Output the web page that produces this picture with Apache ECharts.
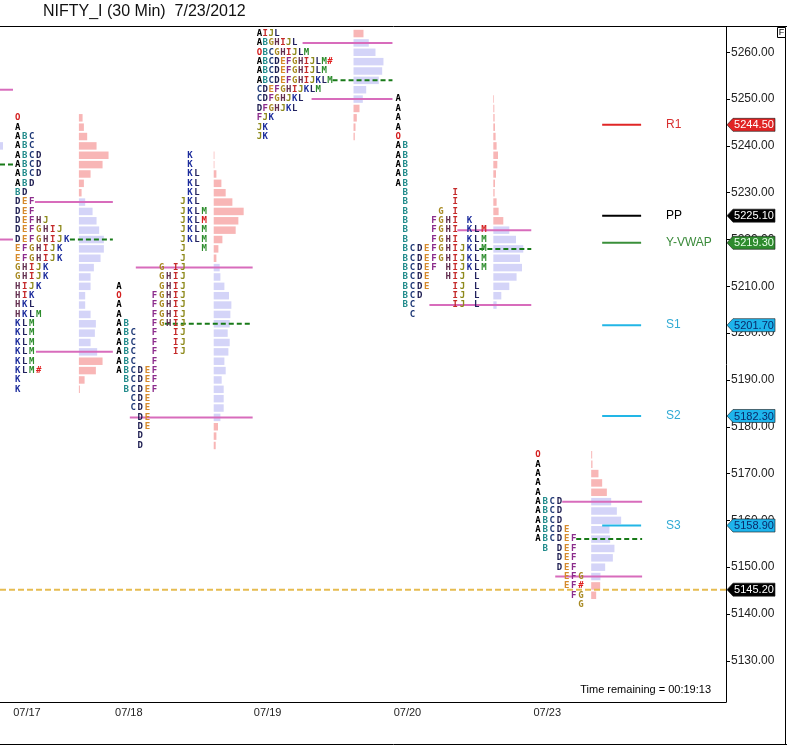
<!DOCTYPE html>
<html>
<head>
<meta charset="utf-8">
<title>NIFTY_I (30 Min) 7/23/2012</title>
<script src="https://cdn.jsdelivr.net/npm/echarts@6/dist/echarts.min.js"></script>
<style>
    html, body { margin: 0; padding: 0; background: #fff; }
    #chart { width: 787px; height: 747px; }
</style>
</head>
<body>
<div id="chart"></div>
<script>
// ==================== Data ====================
const TITLE = 'NIFTY_I (30 Min)  7/23/2012';
const dayLabels = ['07/17', '07/18', '07/19', '07/20', '07/23'];
const yTicks = [5130, 5140, 5150, 5160, 5170, 5180, 5190, 5200, 5210, 5220, 5230, 5240, 5250, 5260];
const ROW = 2; // price per TPO row

// TPO rows, top row first. O = open, # = close, m = POC-marked M
// tail of 07/16 (only the right edge is visible)
const top0716 = 5240;
const tpo0716 = [];
const vol0716 = [3];
const va0716 = [5252, 5236, 5220]; // VAH, POC, VAL

const top0717 = 5246;
const tpo0717 = ['O', 'A', 'ABC', 'ABC', 'ABCD', 'ABCD', 'ABCD', 'ABD', 'BD', 'DEF',
    'DEF', 'DEFHJ', 'DEFGHIJ', 'DEFGHIJK', 'EFGHIJK', 'EFGHIJK', 'GHIJK', 'GHIJK', 'HIJK', 'HIK',
    'HKL', 'HKLM', 'KLM', 'KLM', 'KLM', 'KLM', 'KLM', 'KLM#', 'K', 'K'];
const vol0717 = [3.7, 5, 8.3, 17.7, 29.7, 23.7, 11.7, 5, 2.7, 6.3,
    13.7, 17.7, 20.3, 25, 25, 21.7, 15, 11.7, 11.7, 6.3,
    6.3, 11.7, 17, 16, 11.7, 18.3, 23.7, 17, 5.7, 1];
const va0717 = [5228, 5220, 5196];

const top0718 = 5238;
const tpo0718 = ['          K', '          K', '          KL', '          KL', '          KL',
    '         JKL', '         JKLM', '         JKLm', '         JKLM', '         JKLM',
    '         J  M', '         J', '      G IJ', '      GHIJ', 'A     GHIJ',
    'O    FGHIJ', 'A    FGHIJ', 'A    FGHIJ', 'AB   FGHIJ', 'ABC  F  IJ',
    'ABC  F  IJ', 'ABC  F  IJ', 'ABC  F', 'ABCDEF', ' BCDEF',
    ' BCDEF', '  CDE', '  CDE', '   DE', '   DE', '   D', '   D'];
const vol0718 = [0.7, 0.7, 2.7, 7.7, 12, 18.7, 30, 24.7, 22, 8.7,
    4.7, 2.7, 6, 6.7, 10.7, 15.3, 17.7, 16.7, 16, 14,
    16, 14.7, 10.7, 12, 8, 10, 10, 10, 6.7, 4.3, 2.7, 2];
const va0718 = [5214, 5202, 5182];

const top0719 = 5264;
const tpo0719 = ['AIJL', 'ABGHIJL', 'OBCGHIJLM', 'ABCDEFGHIJLM#', 'ABCDEFGHIJLM', 'ABCDEFGHIJKLM',
    'CDEFGHIJKLM', 'CDFGHJKL', 'DFGHJKL', 'FJK', 'JK', 'JK'];
const vol0719 = [10, 15.3, 22, 30, 28.7, 25.3, 12.7, 9.3, 6, 3.3, 2, 1.3];
const va0719 = [5262, 5254, 5250];

const top0720 = 5250;
const tpo0720 = ['A', 'A', 'A', 'A', 'O', 'AB', 'AB', 'AB', 'AB', 'AB',
    ' B      I', ' B      I', ' B    G I', ' B   FGHI K', ' B   FGHI KLm',
    ' B   FGHI KLM', ' BCDEFGHIJKLM', ' BCDEFGHIJKLM', ' BCDEF HIJKLM', ' BCDE  HIJ L',
    ' BCDE   IJ L', ' BCD    IJ L', ' BC     IJ L', '  C'];
const vol0720 = [0.7, 1, 1.3, 1.7, 2.3, 3.3, 4.7, 4, 2.7, 1.7,
    1.3, 3.3, 5.3, 10, 16, 22.7, 30, 26.7, 28.7, 23.3,
    16, 8, 3.3, 0];
const va0720 = [5222, 5218, 5206];

const top0723 = 5174;
const tpo0723 = ['O', 'A', 'A', 'A', 'A', 'ABCD', 'ABCD', 'ABCD', 'ABCDE', 'ABCDEF',
    ' B DEF', '   DEF', '   DEF', '    EFG', '    EF#', '     FG', '      G'];
const vol0723 = [1, 1.3, 7.3, 11, 15.7, 20, 25.7, 30, 18.3, 19,
    23.3, 21.7, 14, 9.3, 9, 5, 0];
const va0723 = [5164, 5156, 5148];

// pivot levels
const levelNames = ['R1', 'PP', 'Y-VWAP', 'S1', 'S2', 'S3'];
const levelValues = [5244.5, 5225.1, 5219.3, 5201.7, 5182.3, 5158.9];
const lastPrice = 5145.2;
const timeRemaining = '00:19:13';

// ==================== Layout / styles ====================
const X_MAX = 727;
const Y_MIN = 5121.2, Y_MAX = 5265.4;
const dayX = [27, 129, 268, 408, 548];
const layouts = [
    { letterX: 0, step: 7, histX: 0, from: [0, 0, 0], to: 13 },
    { letterX: 15, step: 7.0, histX: 79, from: [35, 70, 36], to: 113 },
    { letterX: 116.5, step: 7.1, histX: 214, from: [136, 165, 130], to: 253 },
    { letterX: 257, step: 5.9, histX: 354, from: [303, 333, 312], to: 393 },
    { letterX: 396, step: 7.15, histX: 494, from: [458, 480, 430], to: 532 },
    { letterX: 536, step: 7.17, histX: 592, from: [563, 577, 556], to: 643 }
];
const levelLineX = [603, 642];
const levelLabelX = 667;

const letterColors = {
    A: '#000000', B: '#1f8a8a', C: '#203a78', D: '#1c1c50', E: '#d68a2c', F: '#8c2c8c',
    G: '#a88a22', H: '#643050', I: '#c42a2a', J: '#8e8a1c', K: '#1c2c9c', L: '#22225e',
    M: '#2c8c2c', O: '#d42020', '#': '#e02020', m: '#d42020'
};
const levelColors = ['#e02626', '#000000', '#3a8f3a', '#22b6e6', '#22b6e6', '#22b6e6'];
const levelTextColors = ['#d83030', '#000000', '#3a8a3a', '#30aad4', '#30aad4', '#30aad4'];
const tagBg = ['#e02424', '#000000', '#2e8b2e', '#1eb4ec', '#1eb4ec', '#1eb4ec'];
const tagFg = ['#ffffff', '#ffffff', '#e8ffe8', '#0a2a6a', '#0a2a6a', '#0a2a6a'];
const PINK = '#f8b6b6', LAVENDER = '#d4d4f8';
const VA_LINE = '#d86cbc', POC_LINE = '#187a18', LAST_LINE = '#e6bc50';
const FONT = '"Liberation Sans", Arial, sans-serif';

// ==================== Build marks ====================
const profiles = [
    { tpo: tpo0716, vol: vol0716, top: top0716, va: va0716 },
    { tpo: tpo0717, vol: vol0717, top: top0717, va: va0717 },
    { tpo: tpo0718, vol: vol0718, top: top0718, va: va0718 },
    { tpo: tpo0719, vol: vol0719, top: top0719, va: va0719 },
    { tpo: tpo0720, vol: vol0720, top: top0720, va: va0720 },
    { tpo: tpo0723, vol: vol0723, top: top0723, va: va0723 }
];

const letters = [];
const bars = [];
const vaLines = [];
profiles.forEach((p, k) => {
    const lay = layouts[k];
    p.tpo.forEach((row, i) => {
        const price = p.top - i * ROW;
        row.split('').forEach((ch, j) => {
            if (ch === ' ') return;
            letters.push({ x: lay.letterX + j * lay.step, y: price, ch: ch === 'm' ? 'M' : ch, color: letterColors[ch] });
        });
    });
    p.vol.forEach((len, i) => {
        if (!len) return;
        const price = p.top - i * ROW;
        const inVA = price <= p.va[0] && price >= p.va[2];
        bars.push({ x0: lay.histX, x1: lay.histX + len, y: price, color: inVA ? LAVENDER : PINK });
    });
    p.va.forEach((price, n) => {
        vaLines.push({ x0: lay.from[n], x1: lay.to, y: price, poc: n === 1 });
    });
});

const levelLines = levelValues.map((v, i) => ({ y: v, color: levelColors[i], name: levelNames[i], text: levelTextColors[i] }));
const tags = levelValues.map((v, i) => ({ y: v, bg: tagBg[i], fg: tagFg[i] }));
tags.push({ y: lastPrice, bg: '#000000', fg: '#ffffff' });

// ==================== Chart ====================
const chart = echarts.init(document.getElementById('chart'));
chart.setOption({
    animation: false,
    backgroundColor: '#ffffff',
    grid: { left: 0, right: 61, top: 27, bottom: 45 },
    xAxis: {
        type: 'value', min: 0, max: X_MAX,
        axisLine: { show: true, onZero: false, lineStyle: { color: '#000', width: 1 } },
        axisTick: { show: false },
        splitLine: { show: false },
        axisLabel: {
            customValues: dayX,
            formatter: v => dayLabels[dayX.indexOf(v)] || '',
            color: '#222', fontSize: 11, fontFamily: FONT, margin: 5
        }
    },
    yAxis: {
        type: 'value', position: 'right', min: Y_MIN, max: Y_MAX,
        axisLine: { show: true, onZero: false, lineStyle: { color: '#000', width: 1 } },
        axisTick: { show: true, customValues: yTicks, length: 4, lineStyle: { color: '#000' } },
        splitLine: { show: false },
        axisLabel: {
            customValues: yTicks,
            formatter: v => v.toFixed(2),
            color: '#222', fontSize: 12, fontFamily: FONT, margin: 5
        }
    },
    graphic: [
        { type: 'text', left: 43, top: 4, style: { text: TITLE, font: '16px ' + FONT, fill: '#111' } },
        { type: 'line', shape: { x1: 0, y1: 26.5, x2: 787, y2: 26.5 }, style: { stroke: '#000', lineWidth: 1 } },
        { type: 'line', shape: { x1: 0, y1: 744.5, x2: 787, y2: 744.5 }, style: { stroke: '#000', lineWidth: 1 } },
        { type: 'line', shape: { x1: 785.5, y1: 37, x2: 785.5, y2: 745 }, style: { stroke: '#000', lineWidth: 1 } },
        { type: 'rect', shape: { x: 777.5, y: 27.5, width: 8, height: 10 }, style: { fill: '#fff', stroke: '#000', lineWidth: 1 } },
        { type: 'text', x: 781.5, y: 32.5, style: { text: 'F', font: '9px ' + FONT, fill: '#000', align: 'center', verticalAlign: 'middle' } },
        { type: 'text', x: 711, y: 690, style: { text: 'Time remaining = ' + timeRemaining, font: '11px ' + FONT, fill: '#000', align: 'right', verticalAlign: 'middle' } }
    ],
    series: [
        {
            // volume histogram
            type: 'custom', z: 2,
            data: bars.map(b => [b.x0, b.y]),
            renderItem(params, api) {
                const b = bars[params.dataIndex];
                const p0 = api.coord([b.x0, b.y + 0.8]);
                const p1 = api.coord([b.x1, b.y - 0.8]);
                return { type: 'rect', shape: { x: p0[0], y: p0[1], width: p1[0] - p0[0], height: p1[1] - p0[1] }, style: { fill: b.color } };
            }
        },
        {
            // value-area and POC lines
            type: 'custom', z: 3,
            data: vaLines.map(l => [l.x0, l.y]),
            renderItem(params, api) {
                const l = vaLines[params.dataIndex];
                const p0 = api.coord([l.x0, l.y]);
                const p1 = api.coord([l.x1, l.y]);
                return {
                    type: 'line', shape: { x1: p0[0], y1: p0[1], x2: p1[0], y2: p1[1] },
                    style: { stroke: l.poc ? POC_LINE : VA_LINE, lineWidth: 2, lineDash: l.poc ? [5, 3] : null }
                };
            }
        },
        {
            // TPO letters
            type: 'custom', z: 4,
            data: letters.map(l => [l.x, l.y]),
            renderItem(params, api) {
                const l = letters[params.dataIndex];
                const p = api.coord([l.x, l.y]);
                return {
                    type: 'text', x: p[0], y: p[1],
                    style: { text: l.ch, fill: l.color, font: 'bold 9px "DejaVu Sans Mono", monospace', align: 'left', verticalAlign: 'middle' }
                };
            }
        },
        {
            // last price line
            type: 'custom', z: 5,
            data: [[0, lastPrice]],
            renderItem(params, api) {
                const p0 = api.coord([0, lastPrice]);
                const p1 = api.coord([X_MAX, lastPrice]);
                return { type: 'line', shape: { x1: p0[0], y1: p0[1], x2: p1[0], y2: p1[1] }, style: { stroke: LAST_LINE, lineWidth: 2, lineDash: [6, 3] } };
            }
        },
        {
            // pivot levels
            type: 'custom', z: 6,
            data: levelLines.map(l => [levelLineX[0], l.y]),
            renderItem(params, api) {
                const l = levelLines[params.dataIndex];
                const p0 = api.coord([levelLineX[0], l.y]);
                const p1 = api.coord([levelLineX[1], l.y]);
                const pt = api.coord([levelLabelX, l.y]);
                return {
                    type: 'group', children: [
                        { type: 'line', shape: { x1: p0[0], y1: p0[1], x2: p1[0], y2: p1[1] }, style: { stroke: l.color, lineWidth: 2 } },
                        { type: 'text', x: pt[0], y: pt[1], style: { text: l.name, fill: l.text, font: '12px ' + FONT, align: 'left', verticalAlign: 'middle' } }
                    ]
                };
            }
        },
        {
            // price tags on the axis
            type: 'custom', z: 10, clip: false,
            data: tags.map(t => [X_MAX, t.y]),
            renderItem(params, api) {
                const t = tags[params.dataIndex];
                const p = api.coord([X_MAX, t.y]);
                const x = p[0], y = p[1];
                return {
                    type: 'group', children: [
                        {
                            type: 'polygon',
                            shape: { points: [[x + 1, y], [x + 7, y - 6.5], [x + 49, y - 6.5], [x + 49, y + 6.5], [x + 7, y + 6.5]] },
                            style: { fill: t.bg, stroke: '#1a1a1a', lineWidth: 0.6 }
                        },
                        { type: 'text', x: x + 28, y: y + 0.5, style: { text: t.y.toFixed(2), fill: t.fg, font: '11px ' + FONT, align: 'center', verticalAlign: 'middle' } }
                    ]
                };
            }
        }
    ]
});
</script>
</body>
</html>
